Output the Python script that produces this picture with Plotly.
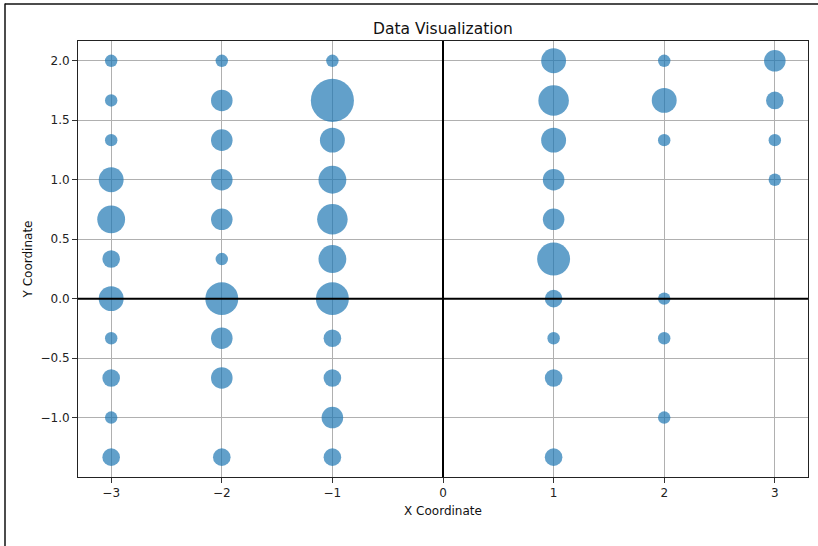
import plotly.graph_objects as go

x_values = [-3, -2, -1, 1, 2, 3]
y_values = [2.0, 1.667, 1.333, 1.0, 0.667, 0.333, 0.0, -0.333, -0.667, -1.0, -1.333]

# bubble counts per column (top to bottom), None = no point
counts_xm3 = [1, 1, 1, 4, 5, 2, 4, 1, 2, 1, 2]
counts_xm2 = [1, 3, 3, 3, 3, 1, 7, 3, 3, None, 2]
counts_xm1 = [1, 12, 4, 5, 6, 5, 7, 2, 2, 3, 2]
counts_x1 = [4, 6, 4, 3, 3, 7, 2, 1, 2, None, 2]
counts_x2 = [1, 4, 1, None, None, None, 1, 1, None, 1, None]
counts_x3 = [3, 2, 1, 1, None, None, None, None, None, None, None]

columns = [counts_xm3, counts_xm2, counts_xm1, counts_x1, counts_x2, counts_x3]

px, py, ps = [], [], []
for xv, col in zip(x_values, columns):
    for yv, c in zip(y_values, col):
        if c is not None:
            px.append(xv)
            py.append(yv)
            ps.append(c)

fig = go.Figure()
fig.add_trace(go.Scatter(
    x=px, y=py, mode="markers",
    marker=dict(size=ps, sizemode="area", sizeref=2 / 155, color="#1f77b4",
                opacity=0.7, line=dict(width=0)),
    showlegend=False, hoverinfo="x+y",
))

W, H = 818, 546
L, R, T, B = 78, 808, 41, 477

def pxx(p):
    return (p - L) / (R - L)

def pxy(p):
    return (B - p) / (B - T)

font = "DejaVu Sans, sans-serif"
axis_common = dict(
    showgrid=True, gridcolor="#b0b0b0", gridwidth=1,
    zeroline=False, showline=True, linecolor="#222", linewidth=1, mirror=True,
    ticks="outside", ticklen=5, tickcolor="#333", tickwidth=1,
    tickfont=dict(family=font, size=12, color="#222"),
    layer="above traces",
)

fig.update_layout(
    width=W, height=H,
    margin=dict(l=L, r=W - R, t=T, b=H - B),
    paper_bgcolor="white", plot_bgcolor="white",
    title=dict(text="Data Visualization", x=0.5, xanchor="center", xref="paper",
               y=1 - 34 / H, yref="container", yanchor="bottom",
               font=dict(family=font, size=15.5, color="#111")),
    xaxis=dict(range=[-3.3, 3.3], tickmode="array", tickvals=[-3, -2, -1, 0, 1, 2, 3],
               title=dict(text="X Coordinate", font=dict(family=font, size=12, color="#111"), standoff=7),
               **axis_common),
    yaxis=dict(range=[-1.5, 2.1667], tickmode="array",
               tickvals=[-1.0, -0.5, 0.0, 0.5, 1.0, 1.5, 2.0], tickformat=".1f",
               title=dict(text="Y Coordinate", font=dict(family=font, size=12, color="#111"), standoff=5),
               **axis_common),
    shapes=[
        dict(type="line", xref="x", yref="paper", x0=0, x1=0, y0=0, y1=1,
             line=dict(color="black", width=2), layer="above"),
        dict(type="line", xref="paper", yref="y", x0=0, x1=1, y0=0, y1=0,
             line=dict(color="black", width=2), layer="above"),
        dict(type="line", xref="paper", yref="paper", x0=pxx(5), x1=pxx(5), y0=pxy(3.5), y1=pxy(560),
             line=dict(color="#111", width=1.5)),
        dict(type="line", xref="paper", yref="paper", x0=pxx(5), x1=pxx(830), y0=pxy(4), y1=pxy(4),
             line=dict(color="#111", width=1.5)),
    ],
)

fig.write_html("out.html", config={"displayModeBar": False},
               post_script="document.body.style.margin='0';document.body.style.overflow='hidden';")
